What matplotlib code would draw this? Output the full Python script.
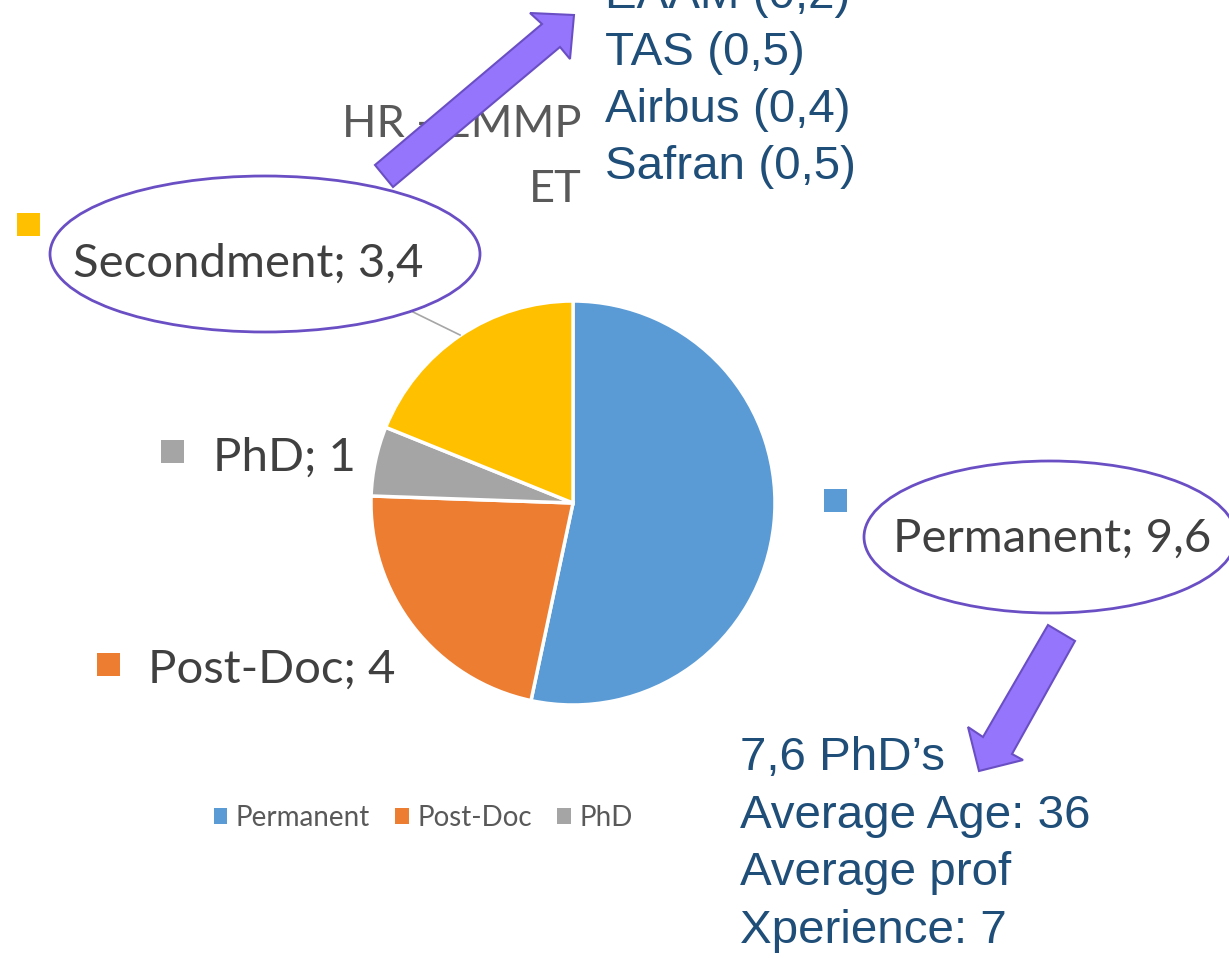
import matplotlib
matplotlib.use("Agg")
import matplotlib.pyplot as plt
from matplotlib.patches import Ellipse, Polygon, Patch, Rectangle

# ---- data ----
categories = ["Permanent", "Post-Doc", "PhD", "Secondment"]
values = [9.6, 4, 1, 3.4]
value_labels = ["9,6", "4", "1", "3,4"]
colors = ["#5B9BD5", "#ED7D31", "#A5A5A5", "#FFC000"]
legend_items = ["Permanent", "Post-Doc", "PhD"]
secondment_notes = ["EAAM (0,2)", "TAS (0,5)", "Airbus (0,4)", "Safran (0,5)"]
permanent_notes = ["7,6 PhD\u2019s", "Average Age: 36", "Average prof", "Xperience: 7"]
category_title = ["HR - EMMP", "ET"]

W, H = 1229, 958
fig = plt.figure(figsize=(W / 100, H / 100), dpi=100)
ax = fig.add_axes([0, 0, 1, 1])

def Y(y):
    return H - y

LABEL_FONT = "Lato"
LABEL_COLOR = "#404040"
BLUE = "#1F4E79"
PURPLE_FILL = "#9575FB"
PURPLE_EDGE = "#6A4FC4"

wedges, _ = ax.pie(values, colors=colors, startangle=90, counterclock=False,
                   center=(573, Y(503)), radius=202,
                   wedgeprops=dict(edgecolor="white", linewidth=2.5))

ax.set_xlim(0, W)
ax.set_ylim(0, H)
ax.set_aspect("equal")
ax.axis("off")

# leader line for Secondment
ax.plot([413, 460], [Y(312), Y(335)], color="#A6A6A6", lw=1.2, zorder=1)

# data labels: (square x, square y top, text x, baseline)
label_pos = {
    "Permanent": (824, 489, 893, 552),
    "Post-Doc": (97, 653, 148, 683),
    "PhD": (161, 440, 213, 471),
    "Secondment": (17, 213, 73, 277),
}
for cat, val, col in zip(categories, value_labels, colors):
    sx, sy, tx, ty = label_pos[cat]
    ax.add_patch(Rectangle((sx, Y(sy + 23)), 23, 23, facecolor=col, edgecolor="none"))
    ax.text(tx, Y(ty), f"{cat}; {val}", fontsize=34, family=LABEL_FONT,
            color=LABEL_COLOR, ha="left", va="baseline")

# ellipses around labels
ax.add_patch(Ellipse((265, Y(254)), 430, 156, fill=False, edgecolor=PURPLE_EDGE, lw=2, zorder=5))
ax.add_patch(Ellipse((1050, Y(537)), 372, 152, fill=False, edgecolor=PURPLE_EDGE, lw=2, zorder=5))

# category title text (wrapped)
ax.text(582, Y(137), category_title[0], fontsize=32.5, family=LABEL_FONT, color="#595959",
        ha="right", va="baseline")
ax.text(582, Y(202), category_title[1], fontsize=32.5, family=LABEL_FONT, color="#595959",
        ha="right", va="baseline")

# arrows
arrow1 = [(375, 165), (542, 24), (530, 13), (574, 15), (570, 59), (560, 47), (393, 187)]
ax.add_patch(Polygon([(x, Y(y)) for x, y in arrow1], closed=True, facecolor=PURPLE_FILL,
                     edgecolor=PURPLE_EDGE, lw=1.5, zorder=6))
arrow2 = [(1048, 625), (983, 737), (968, 727), (979, 771), (1023, 760), (1012, 754), (1075, 641)]
ax.add_patch(Polygon([(x, Y(y)) for x, y in arrow2], closed=True, facecolor=PURPLE_FILL,
                     edgecolor=PURPLE_EDGE, lw=1.5, zorder=6))

# notes
for i, line in enumerate(secondment_notes):
    ax.text(605, Y(8 + 57 * i), line, fontsize=34.2, family="Liberation Sans", color=BLUE,
            ha="left", va="baseline")
for i, line in enumerate(permanent_notes):
    ax.text(740, Y(770 + 57.7 * i), line, fontsize=34.2, family="Liberation Sans", color=BLUE,
            ha="left", va="baseline")

# legend
handles = [Patch(facecolor=c, edgecolor="none") for c in colors[:3]]
ax.legend(handles, legend_items, loc="center", bbox_to_anchor=(423 / W, 1 - 818 / H),
          ncol=3, frameon=False, prop=dict(family=LABEL_FONT, size=20),
          labelcolor="#595959", handlelength=0.5, handleheight=0.5,
          handletextpad=0.3, columnspacing=0.9)

fig.savefig("out.png", dpi=100)
